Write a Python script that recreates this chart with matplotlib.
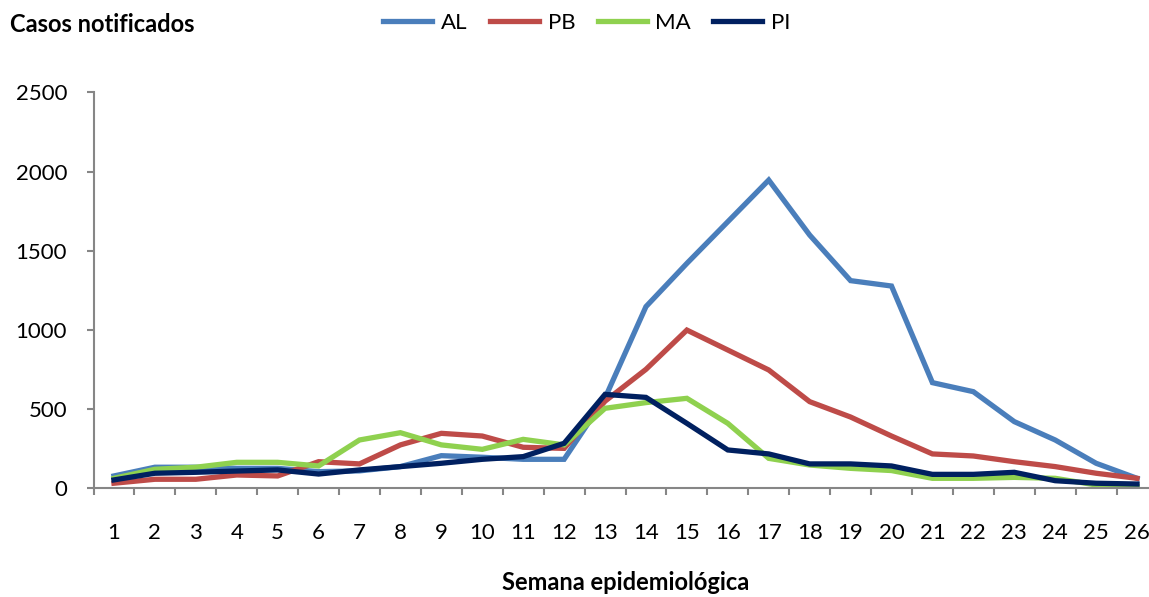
import numpy as np
import matplotlib
matplotlib.use("Agg")
import matplotlib.pyplot as plt

plt.rcParams['font.family'] = ['Lato', 'DejaVu Sans']

# semanas epidemiologicas
semanas = list(range(1, 27))

# casos notificados por estado
al = [78, 133, 133, 126, 126, 105, 110, 137, 206, 196, 183, 183, 570, 1147,
      1420, 1683, 1946, 1599, 1311, 1277, 667, 610, 421, 305, 158, 63]
pb = [32, 57, 57, 84, 78, 168, 154, 274, 347, 330, 259, 252, 550, 751,
      999, 873, 747, 547, 450, 330, 217, 204, 168, 137, 95, 63]
ma = [63, 120, 133, 164, 164, 141, 305, 351, 274, 246, 309, 274, 505, 541,
      568, 410, 189, 147, 126, 112, 63, 63, 69, 63, 21, 10]
pi = [53, 95, 101, 109, 116, 90, 116, 137, 158, 183, 200, 284, 593, 574,
      410, 242, 217, 154, 154, 141, 88, 88, 101, 48, 32, 27]

series = [("AL", al, "#4A7EBB"),
          ("PB", pb, "#BE4B48"),
          ("MA", ma, "#8FD14F"),
          ("PI", pi, "#002060")]

W, H = 1149, 597
fig = plt.figure(figsize=(W / 100, H / 100), dpi=100)
ax = fig.add_axes([93.5 / W, 1 - 488.3 / H, 1064 / W, 396 / H])

for nome, vals, cor in series:
    ax.plot(semanas, vals, color=cor, lw=3.8, label=nome, solid_joinstyle='miter')

ax.set_xlim(0.5, 26.5)
ax.set_ylim(0, 2500)
ax.set_yticks(np.arange(0, 2501, 500))
ax.set_xticks(semanas)
ax.set_xticks(np.arange(0.5, 27, 1), minor=True)

grey = "#868686"
for s in ["top", "right"]:
    ax.spines[s].set_visible(False)
for s in ["left", "bottom"]:
    ax.spines[s].set_color(grey)
    ax.spines[s].set_linewidth(1.5)

ax.tick_params(axis='y', length=5, width=1.5, color=grey, pad=14, labelsize=16)
ax.tick_params(axis='x', which='major', length=0, pad=25, labelsize=16)
ax.tick_params(axis='x', which='minor', length=5, width=1.5, color=grey)

fig.text(10 / W, 1 - 25 / H, "Casos notificados", fontsize=17, fontweight='bold',
         va='center', ha='left')
fig.text(626 / W, 1 - 582 / H, "Semana epidemiológica", fontsize=17,
         fontweight='bold', va='center', ha='center')

fig.legend(loc='center', bbox_to_anchor=(587 / W, 1 - 23 / H), ncol=4,
           frameon=False, fontsize=16, handlelength=2.2, handletextpad=0.4,
           columnspacing=1.0)

fig.savefig("out.png", dpi=100)
